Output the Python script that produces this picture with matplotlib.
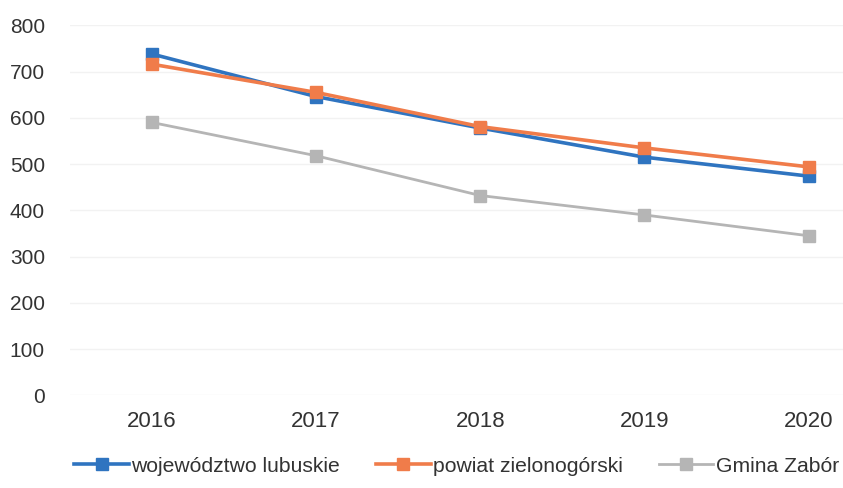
import numpy as np
import matplotlib.pyplot as plt

plt.rcParams['font.family'] = ['Liberation Sans', 'DejaVu Sans']

years = ['2016', '2017', '2018', '2019', '2020']
lubuskie = [738, 646, 578, 515, 474]
zielonogorski = [716, 655, 581, 535, 494]
zabor = [590, 518, 432, 390, 345]

x = np.arange(len(years))

fig = plt.figure(figsize=(8.43, 4.88), dpi=100)
ax = fig.add_axes([0.083, 0.19, 0.917, 0.758])

ax.plot(x, lubuskie, color='#2f74c0', lw=2.6, marker='s', ms=9,
        label='województwo lubuskie', zorder=3)
ax.plot(x, zielonogorski, color='#f07c4a', lw=2.6, marker='s', ms=9,
        label='powiat zielonogórski', zorder=4)
ax.plot(x, zabor, color='#b5b5b5', lw=2.0, marker='s', ms=9,
        label='Gmina Zabór', zorder=2)

ax.set_ylim(0, 800)
ax.set_yticks(range(0, 801, 100))
ax.set_xlim(-0.5, 4.21)
ax.set_xticks(x)
ax.set_xticklabels(years)
ax.grid(axis='y', color='#f2f2f2', lw=1)
ax.set_axisbelow(True)
for s in ax.spines.values():
    s.set_visible(False)
ax.tick_params(length=0, labelsize=15, colors='#333333')
ax.tick_params(axis='x', pad=11, labelsize=16)
ax.tick_params(axis='y', pad=18)

ax.legend(loc='upper center', bbox_to_anchor=(0.5, -0.115), ncol=3, frameon=False,
          fontsize=15.2, handlelength=2.6, columnspacing=1.7, handletextpad=0.1,
          labelcolor='#333333')

fig.savefig('out.png', dpi=100)
